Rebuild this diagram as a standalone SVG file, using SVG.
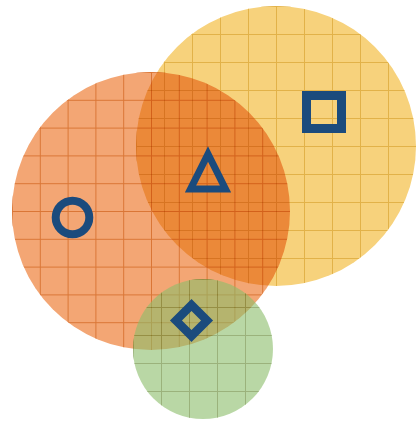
<svg xmlns="http://www.w3.org/2000/svg" width="417" height="422" viewBox="0 0 417 422">
  <style>
    .set { mix-blend-mode: multiply; }
    .mark { fill: none; stroke: #1b4b7d; stroke-linejoin: miter; }
  </style>
  <defs>
    <pattern id="gridY" patternUnits="userSpaceOnUse" x="136" y="6" width="28" height="28">
      <path d="M0 0.5H28M0.5 0V28" stroke="#e2b249" stroke-width="1" fill="none"/>
    </pattern>
    <pattern id="gridO" patternUnits="userSpaceOnUse" x="12" y="72" width="27.8" height="27.8">
      <path d="M0 0.5H27.8M0.5 0V27.8" stroke="#da7636" stroke-width="1" fill="none"/>
    </pattern>
    <pattern id="gridG" patternUnits="userSpaceOnUse" x="133" y="279" width="28" height="28">
      <path d="M0 0.5H28M0.5 0V28" stroke="#5a8026" stroke-width="1" fill="none"/>
    </pattern>
  </defs>
  <rect width="417" height="422" fill="#ffffff"/>
  <g id="set-yellow" class="set">
    <circle cx="276" cy="146" r="140" fill="#f7d27c"/>
    <circle cx="276" cy="146" r="140" fill="url(#gridY)"/>
  </g>
  <g id="set-orange" class="set">
    <circle cx="151" cy="211" r="139" fill="#f3a674"/>
    <circle cx="151" cy="211" r="139" fill="url(#gridO)"/>
  </g>
  <g id="set-green" opacity="0.6">
    <circle cx="203" cy="349" r="70" fill="#8cbe6b"/>
    <circle cx="203" cy="349" r="70" fill="url(#gridG)"/>
  </g>
  <g id="mark-circle">
    <circle class="mark" cx="72.5" cy="217.5" r="16.8" stroke-width="8"/>
  </g>
  <g id="mark-triangle">
    <polygon class="mark" points="208,154 190.5,189 225.5,189" stroke-width="7"/>
  </g>
  <g id="mark-square">
    <rect class="mark" x="306.5" y="95.5" width="35" height="33" stroke-width="9"/>
  </g>
  <g id="mark-diamond">
    <rect class="mark" x="180.5" y="309.5" width="22" height="22" stroke-width="8.5" transform="rotate(45 191.5 320.5)"/>
  </g>
</svg>
